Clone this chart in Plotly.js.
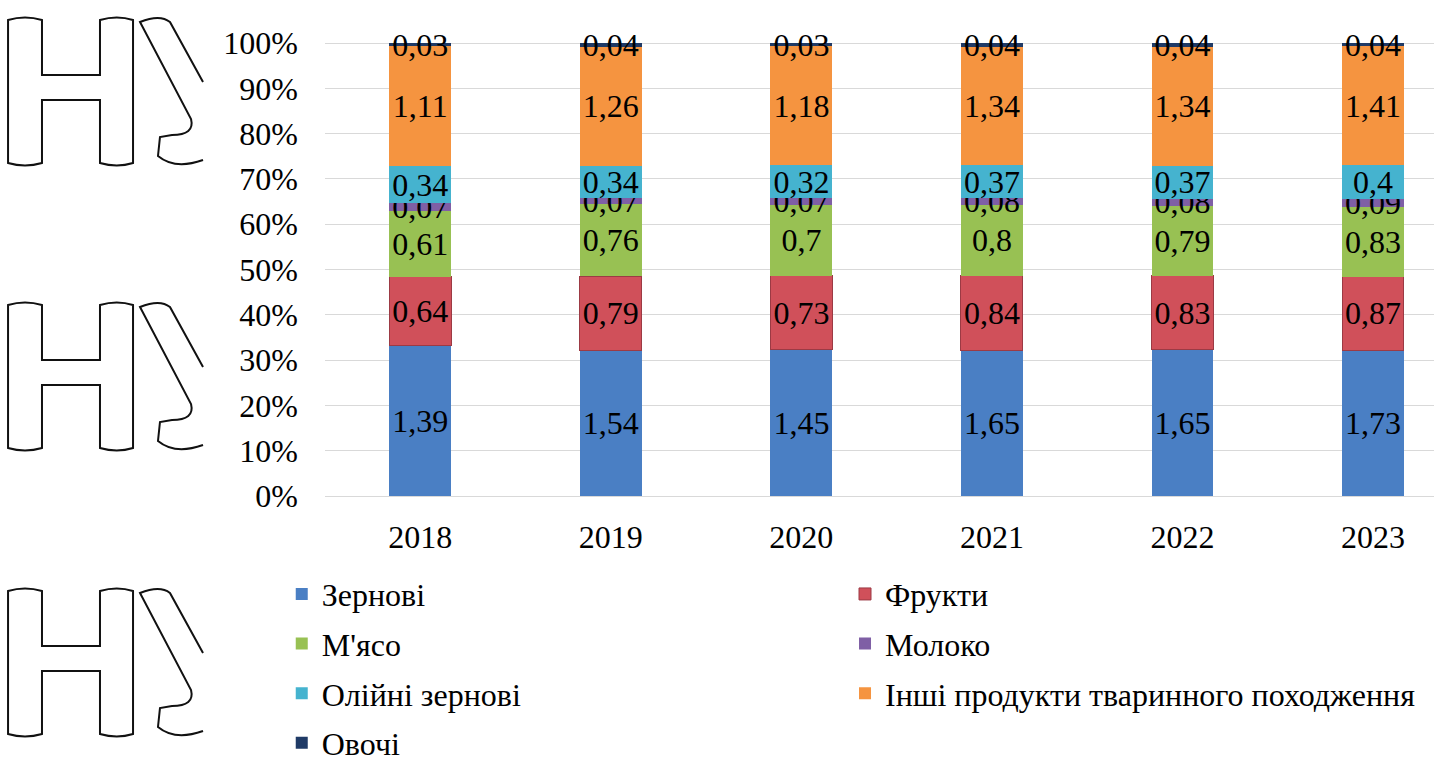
<!DOCTYPE html>
<html>
<head>
<meta charset="utf-8">
<script src="https://cdn.plot.ly/plotly-3.0.1.min.js"></script>
<style>
  html, body { margin: 0; padding: 0; background: #fff; }
  #plot { width: 1434px; height: 760px; }
</style>
</head>
<body>
<div id="plot"></div>
<script>
// years and values per product group
var years = ["2018", "2019", "2020", "2021", "2022", "2023"];
var grain = [1.39, 1.54, 1.45, 1.65, 1.65, 1.73];
var fruit = [0.64, 0.79, 0.73, 0.84, 0.83, 0.87];
var meat = [0.61, 0.76, 0.7, 0.8, 0.79, 0.83];
var milk = [0.07, 0.07, 0.07, 0.08, 0.08, 0.09];
var oilseed = [0.34, 0.34, 0.32, 0.37, 0.37, 0.4];
var otherAnimal = [1.11, 1.26, 1.18, 1.34, 1.34, 1.41];
var veg = [0.03, 0.04, 0.03, 0.04, 0.04, 0.04];
var pctTicks = [0, 10, 20, 30, 40, 50, 60, 70, 80, 90, 100];

var names = ["Зернові", "Фрукти", "М'ясо", "Молоко", "Олійні зернові",
             "Інші продукти тваринного походження", "Овочі"];
var colors = ["#4a7fc4", "#d0505a", "#98c153", "#7f5fa5", "#45b3cf", "#f59440", "#1f3a66"];
var edges = [0, 1, 0, 0, 0, 0, 0];   // only the fruit boxes have a thin outline
var series = [grain, fruit, meat, milk, oilseed, otherAnimal, veg];
// legend column of each series: left column and right column
var legendCol = ["legend", "legend2", "legend", "legend2", "legend", "legend2", "legend"];

var font = {family: "'Liberation Serif', 'Times New Roman', 'DejaVu Serif', serif", size: 32, color: "#000"};

// comma as decimal mark
function fmt(v) { return String(v).replace(".", ","); }

var plotData = series.map(function (vals, i) {
    return {
        x: years,
        y: vals,
        name: names[i],
        legend: legendCol[i],
        legendgroup: "g" + i,
        type: "bar",
        width: 0.325,
        text: vals.map(fmt),
        textposition: "inside",
        insidetextanchor: "middle",
        textangle: 0,
        textfont: font,
        marker: {color: colors[i], line: {width: edges[i], color: "#9c3a44"}},
        hovertemplate: names[i] + ": %{text}<extra></extra>"
    };
});

// watermark letters on the left, drawn in pixel units and turned into paper units
var L = 325, W = 1109, B = 496, H = 471;
function P(x, y) { return ((x - L) / W).toFixed(4) + "," + ((B - y) / H).toFixed(4); }
function letters(dy) {
    var h = "M" + P(8, 20 + dy) + " L" + P(8, 163 + dy) + " Q" + P(25, 168 + dy) + " " + P(42, 163 + dy) +
        " L" + P(42, 100 + dy) + " L" + P(100, 100 + dy) + " L" + P(100, 163 + dy) +
        " Q" + P(117, 168 + dy) + " " + P(133, 163 + dy) + " L" + P(133, 20 + dy) +
        " Q" + P(117, 15 + dy) + " " + P(100, 20 + dy) + " L" + P(100, 75 + dy) + " L" + P(42, 75 + dy) +
        " L" + P(42, 20 + dy) + " Q" + P(25, 15 + dy) + " " + P(8, 20 + dy) + " Z";
    var u = "M" + P(203, 82 + dy) + " L" + P(170, 22 + dy) + " Q" + P(160, 14 + dy) + " " + P(140, 22 + dy) +
        " L" + P(191, 119 + dy) + " Q" + P(195, 135 + dy) + " " + P(172, 135 + dy) +
        " L" + P(160, 137 + dy) + " L" + P(158, 156 + dy) + " Q" + P(175, 170 + dy) + " " + P(203, 160 + dy);
    return [
        {type: "path", xref: "paper", yref: "paper", path: h, line: {color: "#111", width: 2}},
        {type: "path", xref: "paper", yref: "paper", path: u, line: {color: "#111", width: 2}}
    ];
}
var shapes = letters(0).concat(letters(285)).concat(letters(571));

function legendAt(x) {
    return {
        orientation: "v",
        x: x,
        xanchor: "left",
        y: -0.150,
        yanchor: "top",
        tracegroupgap: 5,
        font: font,
        bgcolor: "rgba(0,0,0,0)",
        traceorder: "grouped"
    };
}

var layout = {
    width: 1434,
    height: 760,
    barmode: "stack",
    barnorm: "percent",
    margin: {l: 325, r: 0, t: 25, b: 264, autoexpand: false},
    paper_bgcolor: "#fff",
    plot_bgcolor: "#fff",
    font: font,
    uniformtext: {mode: "show", minsize: 32},
    xaxis: {
        type: "category",
        range: [-0.5, 5.32],
        showgrid: false,
        showline: false,
        zeroline: false,
        ticks: "",
        ticklabelstandoff: 19,
        tickfont: font
    },
    yaxis: {
        range: [0, 104],
        tickmode: "array",
        tickvals: pctTicks,
        ticktext: pctTicks.map(function (t) { return t + "%"; }),
        showgrid: true,
        gridcolor: "#d9d9d9",
        gridwidth: 1,
        zeroline: true,
        zerolinecolor: "#d9d9d9",
        ticks: "",
        ticklabelstandoff: 26,
        tickfont: font
    },
    showlegend: true,
    legend: legendAt(-0.039),
    legend2: legendAt(0.4689),
    shapes: shapes
};

Plotly.newPlot("plot", plotData, layout, {displayModeBar: false});
</script>
</body>
</html>
